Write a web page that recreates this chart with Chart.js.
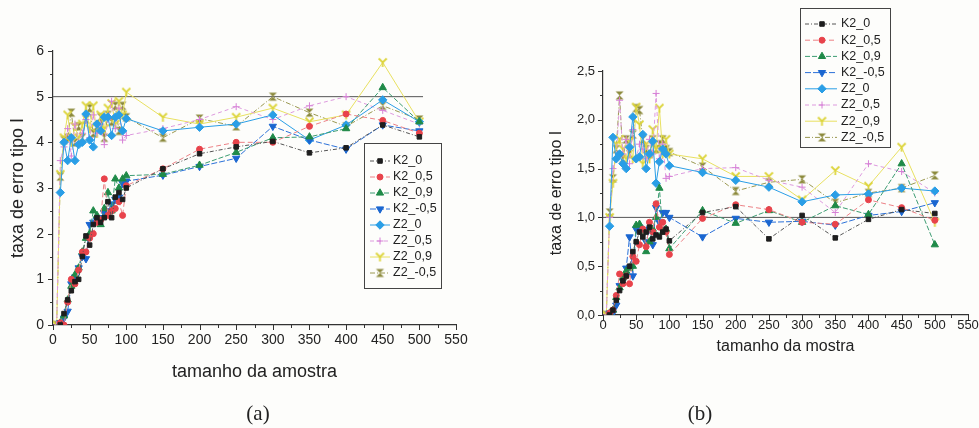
<!DOCTYPE html>
<html>
<head>
<meta charset="utf-8">
<script src="https://cdn.jsdelivr.net/npm/chart.js@4.4.0/dist/chart.umd.min.js"></script>
<style>
  html, body { margin: 0; padding: 0; background: #fdfdfb; }
  #wrap { position: relative; width: 979px; height: 428px; overflow: hidden; }
  #wrap canvas { position: absolute; top: 0; }
  .cap { position: absolute; font-family: "Liberation Serif", "Times New Roman", serif; font-size: 21px; color: #222; transform: translate(-50%, -50%); }
</style>
</head>
<body>
<div id="wrap">
  <canvas id="chartA" width="500" height="428" style="left:0;width:500px;height:428px"></canvas>
  <canvas id="chartB" width="479" height="428" style="left:500px;width:479px;height:428px"></canvas>
  <div class="cap" style="left:258px;top:413px">(a)</div>
  <div class="cap" style="left:700px;top:413px">(b)</div>
</div>
<script>
// tamanho da amostra
const sampleSizes = [5, 10, 15, 20, 25, 30, 35, 40, 45, 50, 55, 60, 65, 70, 75, 80, 85, 90, 95, 100,
  150, 200, 250, 300, 350, 400, 450, 500];
const seriesNames = ["K2_0", "K2_0,5", "K2_0,9", "K2_-0,5", "Z2_0", "Z2_0,5", "Z2_0,9", "Z2_-0,5"];

// (a) taxa de erro tipo I, nivel 5%
const aK2_0   = [null, 0, 0.25, 0.55, 0.75, 0.95, 1.0, 1.5, 1.95, 1.75, 2.2, 2.35, 2.25, 2.35, 2.7, 2.35, 2.8, 2.9, 2.75, 3.0,
  3.42, 3.75, 3.9, 4.02, 3.77, 3.88, 4.38, 4.12];
const aK2_05  = [null, 0.05, 0, 0.5, 1.0, 0.9, 1.2, 1.6, 1.6, 1.9, 2.0, 2.25, 2.3, 3.2, 2.4, 2.5, 2.55, 2.7, 2.4, 3.05,
  3.42, 3.85, 4.0, 4.0, 4.35, 4.62, 4.48, 4.2];
const aK2_09  = [null, 0.05, 0.2, 0.55, 0.85, 1.1, 1.25, 1.6, 1.9, 2.0, 2.5, 2.4, 2.2, 2.55, 2.9, 2.5, 3.2, 3.0, 3.2, 3.27,
  3.3, 3.5, 3.78, 4.1, 4.12, 4.3, 5.2, 4.45];
const aK2_m05 = [null, 0.05, 0.15, 0.3, 0.9, 1.05, 1.25, 1.5, 1.45, 2.2, 2.25, 2.3, 2.35, 2.45, 2.5, 2.65, 2.75, 2.8, 3.1, 3.15,
  3.28, 3.47, 3.65, 4.35, 4.05, 3.85, 4.38, 4.25];
const aZ2_0   = [null, 2.9, 4.0, 3.6, 4.1, 3.6, 3.95, 4.0, 4.62, 4.05, 3.9, 4.4, 4.25, 4.55, 4.55, 4.15, 4.55, 4.6, 4.25, 4.52,
  4.25, 4.33, 4.4, 4.6, 4.05, 4.38, 4.93, 4.45];
const aZ2_05  = [0, 3.6, 3.9, 4.3, 3.7, 4.4, 4.0, 4.2, 4.5, 4.1, 4.6, 4.2, 4.4, 3.95, 4.5, 4.9, 4.3, 4.75, 4.05, 4.15,
  4.3, 4.5, 4.78, 4.5, 4.8, 5.0, 4.7, 4.4];
const aZ2_09  = [0, 3.3, 4.1, 4.6, 4.0, 4.35, 4.1, 4.4, 4.8, 4.3, 4.8, 4.2, 4.6, 4.3, 4.75, 4.85, 4.4, 4.9, 4.6, 5.1,
  4.55, 4.4, 4.55, 4.75, 4.45, 4.6, 5.75, 4.45];
const aZ2_m05 = [0, 3.25, 4.05, 4.1, 4.65, 4.0, 4.35, 4.1, 4.5, 4.75, 4.2, 4.35, 4.55, 4.1, 4.6, 4.45, 4.8, 4.25, 4.8, 4.55,
  4.1, 4.52, 4.35, 5.0, 4.65, 4.35, 4.8, 4.5];

// (b) taxa de erro tipo I, nivel 1%
const bK2_0   = [null, 0, 0.05, 0.15, 0.25, 0.35, 0.4, 0.5, 0.65, 0.75, 0.85, 0.8, 0.85, 0.9, 0.78, 0.82, 0.8, 0.85, 0.88, 0.76,
  1.05, 1.11, 0.78, 1.02, 0.79, 0.98, 1.08, 1.04];
const bK2_05  = [null, 0.02, 0.05, 0.2, 0.42, 0.32, 0.4, 0.32, 0.6, 0.55, 0.72, 0.88, 0.7, 0.95, 0.85, 1.14, 0.9, 0.95, 0.85, 0.62,
  0.99, 1.13, 1.08, 0.95, 0.93, 1.18, 1.1, 0.97];
const bK2_09  = [null, 0.02, 0.05, 0.18, 0.28, 0.38, 0.45, 0.48, 0.5, 0.92, 0.93, 0.85, 0.65, 0.75, 0.88, 1.0, 1.3, 0.85, 0.88, 0.68,
  1.07, 0.94, 1.07, 0.95, 1.12, 1.03, 1.55, 0.72];
const bK2_m05 = [null, 0.02, 0.02, 0.1, 0.3, 0.35, 0.48, 0.8, 0.4, 0.88, 0.9, 0.82, 0.75, 0.88, 0.72, 1.1, 0.95, 1.05, 1.05, 1.0,
  0.8, 0.99, 0.95, 0.96, 0.92, 1.02, 1.06, 1.15];
const bZ2_0   = [null, 0.91, 1.82, 1.6, 1.65, 1.55, 1.5, 1.72, 2.03, 1.6, 1.62, 1.85, 1.5, 1.65, 1.78, 1.35, 1.57, 1.7, 1.65, 1.53,
  1.46, 1.38, 1.31, 1.16, 1.23, 1.24, 1.3, 1.27];
const bZ2_05  = [0, 1.0, 1.5, 1.6, 2.2, 1.65, 1.8, 1.55, 1.9, 1.6, 1.75, 1.7, 1.6, 1.8, 1.65, 2.27, 1.6, 1.75, 1.4, 1.42,
  1.5, 1.51, 1.38, 1.31, 1.05, 1.55, 1.47, 1.25];
const bZ2_09  = [0, 1.0, 1.35, 1.75, 1.8, 1.7, 1.6, 1.78, 1.6, 2.13, 1.95, 1.55, 1.75, 1.6, 1.9, 1.7, 2.12, 1.65, 1.8, 1.65,
  1.6, 1.42, 1.42, 1.18, 1.48, 1.32, 1.72, 0.95];
const bZ2_m05 = [0, 1.05, 1.4, 1.7, 2.25, 1.6, 1.8, 1.65, 1.85, 2.12, 2.1, 1.8, 1.7, 1.65, 1.8, 1.7, 1.75, 1.8, 1.7, 1.67,
  1.52, 1.27, 1.36, 1.39, 1.15, 1.25, 1.3, 1.43];

// nominal level lines
const refX = [0, 505];
const refA = [5, 5];
const refB = [1, 1];

Chart.defaults.font.family = '"Liberation Sans", Arial, sans-serif';
Chart.defaults.color = "#222";

function marker(draw) {
  const c = document.createElement("canvas");
  c.width = 11; c.height = 11;
  draw(c.getContext("2d"));
  return c;
}
const yMark = marker(g => {
  g.strokeStyle = "#dcd43a"; g.lineWidth = 1.8;
  g.beginPath();
  g.moveTo(1.5, 1.5); g.lineTo(5.5, 5.5); g.lineTo(9.5, 1.5);
  g.moveTo(5.5, 5.5); g.lineTo(5.5, 10);
  g.stroke();
});
const hourglass = marker(g => {
  g.fillStyle = "#8c8a3c";
  g.beginPath();
  g.moveTo(1.5, 1.5); g.lineTo(9.5, 1.5); g.lineTo(1.5, 9.5); g.lineTo(9.5, 9.5);
  g.closePath(); g.fill();
});

const styles = [
  { color: "#1e1e1e", line: "#555555", point: "rect", r: 3.2, dash: [4, 2, 1, 2] },
  { color: "#e8434b", line: "#ec8085", point: "circle", r: 3, dash: [5, 3] },
  { color: "#1f8a48", line: "#3c9c72", point: "triangle", r: 4.2, dash: [5, 2] },
  { color: "#1a66d0", line: "#2a70d8", point: "triangle", rot: 180, r: 4.2, dash: [6, 2] },
  { color: "#2a9ee6", line: "#2a9ee6", point: "rectRot", r: 4.2, dash: [] },
  { color: "#d67fd6", line: "#dd9ade", point: "cross", r: 3.5, dash: [4, 3] },
  { color: "#e4dc3a", line: "#e8e060", point: yMark, r: 4, dash: [] },
  { color: "#8c8a3c", line: "#9a9850", point: hourglass, r: 4, dash: [5, 2, 1, 2] }
];

function buildDatasets(valuesList, refY) {
  const ds = valuesList.map((vals, i) => ({
    label: seriesNames[i],
    data: sampleSizes.map((x, j) => ({ x, y: vals[j] })),
    borderColor: styles[i].line,
    backgroundColor: styles[i].color,
    pointBorderColor: styles[i].color,
    pointBackgroundColor: styles[i].color,
    borderWidth: 1,
    borderDash: styles[i].dash,
    pointStyle: styles[i].point,
    pointRadius: styles[i].r,
    pointRotation: styles[i].rot || 0,
    pointBorderWidth: 1,
    tension: 0
  }));
  ds.push({
    label: "ref", isRef: true,
    data: refX.map((x, j) => ({ x, y: refY[j] })),
    borderColor: "#555", borderWidth: 1, pointRadius: 0
  });
  return ds;
}

function isMajor(v, step) {
  return Math.abs(v / step - Math.round(v / step)) < 1e-6;
}

const tickMarks = {
  id: "tickMarks",
  afterDraw(chart, args, opts) {
    const ctx = chart.ctx, xs = chart.scales.x, ys = chart.scales.y;
    ctx.save();
    ctx.strokeStyle = "#333";
    ctx.lineWidth = 1;
    ctx.beginPath();
    xs.ticks.forEach(t => {
      const p = Math.round(xs.getPixelForValue(t.value)) + 0.5;
      const len = isMajor(t.value, opts.xMajor) ? 5 : 3;
      ctx.moveTo(p, xs.top); ctx.lineTo(p, xs.top + len);
    });
    ys.ticks.forEach(t => {
      const p = Math.round(ys.getPixelForValue(t.value)) + 0.5;
      const len = isMajor(t.value, opts.yMajor) ? 5 : 3;
      ctx.moveTo(ys.right, p); ctx.lineTo(ys.right - len, p);
    });
    ctx.stroke();
    ctx.restore();
  }
};

const boxLegend = {
  id: "boxLegend",
  afterDraw(chart, args, o) {
    const ctx = chart.ctx;
    ctx.save();
    ctx.fillStyle = "#fdfdfb";
    ctx.fillRect(o.x, o.y, o.w, o.h);
    ctx.strokeStyle = "#444";
    ctx.lineWidth = 1;
    ctx.strokeRect(o.x + 0.5, o.y + 0.5, o.w, o.h);
    ctx.font = o.font + 'px "Liberation Sans", Arial, sans-serif';
    ctx.textBaseline = "middle";
    chart.data.datasets.filter(d => !d.isRef).forEach((d, i) => {
      const cy = o.row0 + i * o.rowH;
      ctx.strokeStyle = d.borderColor;
      ctx.setLineDash(d.borderDash || []);
      ctx.beginPath();
      ctx.moveTo(o.lx0, cy); ctx.lineTo(o.lx1, cy);
      ctx.stroke();
      ctx.setLineDash([]);
      ctx.fillStyle = d.pointBackgroundColor;
      ctx.strokeStyle = d.pointBorderColor;
      Chart.helpers.drawPoint(ctx, {
        pointStyle: d.pointStyle, radius: d.pointRadius, rotation: d.pointRotation, borderWidth: 1
      }, o.mx, cy);
      ctx.fillStyle = "#222";
      ctx.fillText(d.label, o.tx, cy);
    });
    ctx.restore();
  }
};

function makeChart(id, datasets, cfg) {
  return new Chart(document.getElementById(id), {
    type: "line",
    data: { datasets },
    plugins: [tickMarks, boxLegend],
    options: {
      responsive: false,
      animation: false,
      layout: { padding: cfg.padding },
      plugins: {
        legend: { display: false },
        tooltip: { enabled: false },
        tickMarks: { xMajor: 50, yMajor: cfg.yMajor },
        boxLegend: cfg.legend
      },
      scales: {
        x: {
          type: "linear", min: 0, max: 550,
          grid: { display: false, drawTicks: false },
          border: { color: "#333", width: 1.2 },
          ticks: {
            stepSize: 25, autoSkip: false, maxRotation: 0, padding: cfg.xPad,
            font: { size: cfg.tickFont },
            callback: v => (isMajor(v, 50) ? String(v) : "")
          },
          title: { display: true, text: cfg.xTitle, font: { size: cfg.titleFont }, padding: 0 },
          afterFit: s => { s.height = cfg.xHeight; s.paddingLeft = 0; s.paddingRight = 0; }
        },
        y: {
          min: 0, max: cfg.yMax,
          grid: { display: false, drawTicks: false },
          border: { color: "#333", width: 1.2 },
          ticks: {
            stepSize: cfg.yStep, autoSkip: false, padding: cfg.yPad,
            font: { size: cfg.tickFont },
            callback: cfg.yLabel
          },
          title: { display: true, text: "taxa de erro tipo I", font: { size: cfg.titleFont }, padding: { top: cfg.yTitleOff, bottom: 0 } },
          afterFit: s => { s.width = cfg.yWidth; s.paddingTop = 0; s.paddingBottom = 0; }
        }
      }
    }
  });
}

makeChart("chartA",
  buildDatasets([aK2_0, aK2_05, aK2_09, aK2_m05, aZ2_0, aZ2_05, aZ2_09, aZ2_m05], refA),
  {
    padding: { left: 0, right: 44, top: 51, bottom: 45 },
    xHeight: 58, yWidth: 53, xPad: 7, yPad: 9, tickFont: 14, titleFont: 18, yTitleOff: 7,
    xTitle: "tamanho da amostra", yMax: 6, yStep: 0.5, yMajor: 1,
    yLabel: v => (isMajor(v, 1) ? String(v) : ""),
    legend: { x: 364, y: 143, w: 77, h: 145, lx0: 370, lx1: 390, mx: 380, tx: 393, row0: 161, rowH: 16, font: 12.5 }
  });

makeChart("chartB",
  buildDatasets([bK2_0, bK2_05, bK2_09, bK2_m05, bZ2_0, bZ2_05, bZ2_09, bZ2_m05], refB),
  {
    padding: { left: 0, right: 11, top: 71, bottom: 72 },
    xHeight: 41, yWidth: 103, xPad: 3, yPad: 8, tickFont: 13, titleFont: 16, yTitleOff: 47,
    xTitle: "tamanho da mostra", yMax: 2.5, yStep: 0.25, yMajor: 0.5,
    yLabel: v => (isMajor(v, 0.5) ? v.toFixed(1).replace(".", ",") : ""),
    legend: { x: 300, y: 8, w: 90, h: 139, lx0: 305, lx1: 337, mx: 322, tx: 341, row0: 24, rowH: 16.2, font: 12.5 }
  });
</script>
</body>
</html>
